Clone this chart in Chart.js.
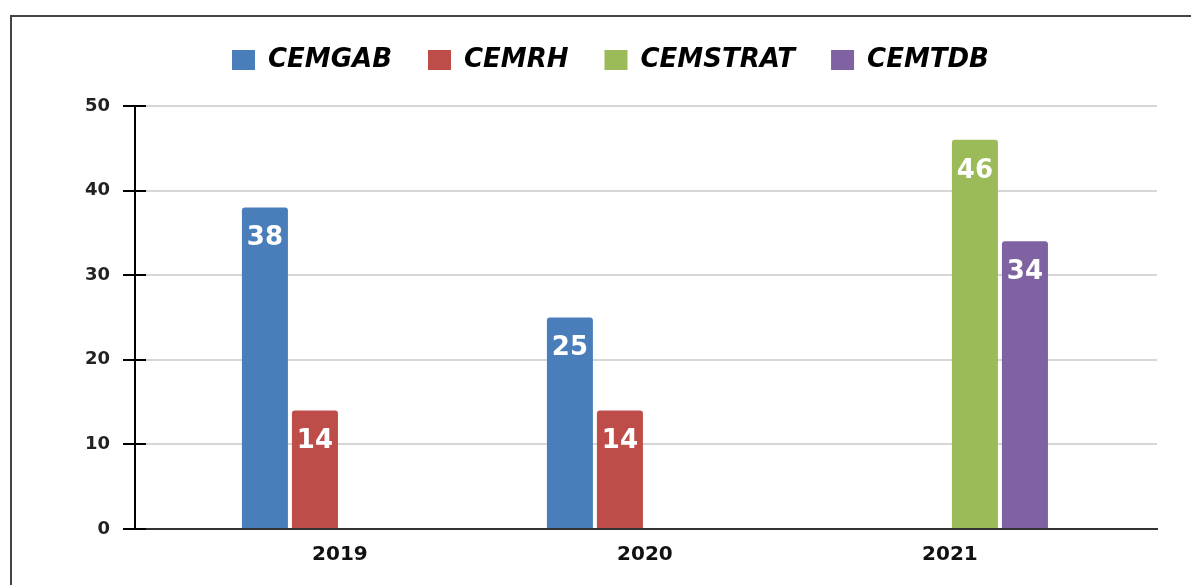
<!DOCTYPE html>
<html>
<head>
<meta charset="utf-8">
<script src="https://cdn.jsdelivr.net/npm/chart.js@4.4.1/dist/chart.umd.min.js"></script>
<style>
  html, body { margin: 0; padding: 0; background: #fff; overflow: hidden; }
  #frame { position: absolute; left: 10px; top: 15px; width: 1200px; height: 600px;
           border-left: 2px solid #444; border-top: 2px solid #444; box-sizing: border-box; }
  #wrap { position: absolute; left: 0; top: 0; width: 1191px; height: 585px; }
</style>
</head>
<body>
<div id="frame"></div>
<div id="wrap"><canvas id="c" width="1191" height="585"></canvas></div>
<script>
const categories = ['2019', '2020', '2021'];
const seriesNames = ['CEMGAB', 'CEMRH', 'CEMSTRAT', 'CEMTDB'];
const cemgab   = [38, 25, null];
const cemrh    = [14, 14, null];
const cemstrat = [null, null, 46];
const cemtdb   = [null, null, 34];
const yTicks = [0, 10, 20, 30, 40, 50];
const colors = ['#4a7ebb', '#be4d4a', '#9bbb59', '#7f62a1'];

const seriesValues = [cemgab, cemrh, cemstrat, cemtdb];
const FONT = '"DejaVu Sans", Verdana, sans-serif';

const datasets = seriesNames.map((name, i) => ({
  label: name,
  data: seriesValues[i].map((v, k) => ({ x: k, y: v })),
  backgroundColor: colors[i],
  borderWidth: 0,
  borderRadius: 3,
  categoryPercentage: 0.656,
  barPercentage: 0.92
}));

const layoutTweaks = {
  id: 'layoutTweaks',
  afterInit(chart) {
    const lg = chart.legend;
    if (lg) {
      const f = lg.fit.bind(lg);
      lg.fit = function () { f(); this.height = 106; };
    }
  },
  afterLayout(chart) {
    const lg = chart.legend;
    if (!lg) return;
    const pad = lg.options.labels.padding;
    const start = (lg.left + pad + lg.right - lg.lineWidths[0]) / 2;
    const dx = 232 - start;
    lg.left += dx; lg.right += dx;
    lg.top += 11; lg.bottom += 11;
  }
};

const innerTicks = {
  id: 'innerTicks',
  afterDraw(chart) {
    const y = chart.scales.y, ctx = chart.ctx, left = chart.chartArea.left;
    ctx.save();
    ctx.strokeStyle = '#000';
    ctx.lineWidth = 2;
    yTicks.forEach(v => {
      const py = Math.round(y.getPixelForValue(v));
      ctx.beginPath();
      ctx.moveTo(left, py);
      ctx.lineTo(left + 11, py);
      ctx.stroke();
    });
    ctx.restore();
  }
};

const valueLabels = {
  id: 'valueLabels',
  afterDatasetsDraw(chart) {
    const ctx = chart.ctx;
    ctx.save();
    ctx.fillStyle = '#fff';
    ctx.font = 'bold 26px ' + FONT;
    ctx.textAlign = 'center';
    ctx.textBaseline = 'middle';
    chart.data.datasets.forEach((ds, i) => {
      const meta = chart.getDatasetMeta(i);
      meta.data.forEach((el, k) => {
        const v = ds.data[k].y;
        if (v === null || v === undefined) return;
        ctx.fillText(String(v), el.x, el.y + 31);
      });
    });
    ctx.restore();
  }
};

new Chart(document.getElementById('c'), {
  type: 'bar',
  data: { datasets },
  plugins: [layoutTweaks, innerTicks, valueLabels],
  options: {
    responsive: false,
    animation: false,
    layout: { padding: { left: 0, right: 34, top: 0, bottom: 0 } },
    plugins: {
      tooltip: { enabled: false },
      legend: {
        position: 'top',
        labels: {
          boxWidth: 23,
          boxHeight: 20,
          padding: 36,
          color: '#000',
          font: { family: FONT, size: 26, weight: 'bold', style: 'italic' }
        }
      }
    },
    scales: {
      x: {
        type: 'linear',
        min: -0.672,
        max: 2.679,
        offset: false,
        afterBuildTicks: (s) => { s.ticks = categories.map((c, i) => ({ value: i })); },
        afterFit: (s) => { s.height = 56; },
        grid: { display: false, drawTicks: false },
        border: { display: true, color: '#333', width: 2 },
        ticks: {
          callback: (v) => categories[v],
          color: '#111',
          padding: 14,
          autoSkip: false,
          maxRotation: 0,
          font: { family: FONT, size: 20, weight: 'bold' }
        }
      },
      y: {
        min: 0,
        max: 50,
        afterBuildTicks: (s) => { s.ticks = yTicks.map(v => ({ value: v })); },
        afterFit: (s) => { s.width = 135; },
        grid: { color: '#d6d6d6', lineWidth: 2, drawTicks: true, tickLength: 12, tickColor: '#000', tickWidth: 2 },
        border: { display: true, color: '#000', width: 2 },
        ticks: {
          color: '#222',
          padding: 13,
          font: { family: FONT, size: 18, weight: 'bold' }
        }
      }
    }
  }
});
</script>
</body>
</html>
